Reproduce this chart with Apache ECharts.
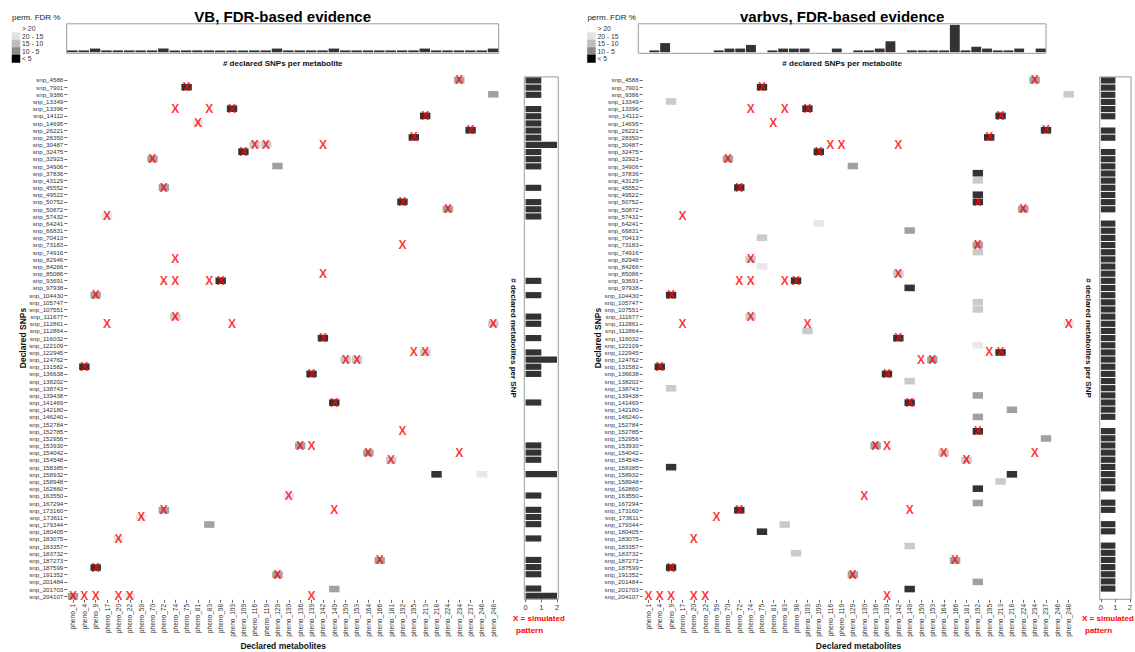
<!DOCTYPE html>
<html>
<head>
<meta charset="utf-8">
<script src="https://cdn.jsdelivr.net/npm/echarts@6/dist/echarts.min.js"></script>
<style>
html,body{margin:0;padding:0;background:#fff;}
#chart{width:1135px;height:652px;}
</style>
</head>
<body>
<div id="chart"></div>
<script>
// ---------------- DATA ----------------
const snps = ['snp_4588','snp_7901','snp_9386','snp_13349','snp_13396','snp_14112','snp_14695','snp_26221','snp_28350','snp_30487',
'snp_32475','snp_32923','snp_34906','snp_37836','snp_43129','snp_45552','snp_49522','snp_50752','snp_50872','snp_57432',
'snp_64241','snp_66831','snp_70413','snp_73183','snp_74916','snp_82946','snp_84266','snp_85086','snp_93691','snp_97938',
'snp_104430','snp_105747','snp_107551','snp_111677','snp_112861','snp_112864','snp_116032','snp_122109','snp_122945','snp_124762',
'snp_131582','snp_136638','snp_138202','snp_138743','snp_139438','snp_141469','snp_142180','snp_146240','snp_152784','snp_152785',
'snp_152956','snp_153930','snp_154042','snp_154548','snp_158385','snp_158932','snp_158948','snp_162860','snp_163550','snp_167294',
'snp_173160','snp_173611','snp_179344','snp_180405','snp_183075','snp_183357','snp_183732','snp_187273','snp_187599','snp_191352',
'snp_201484','snp_201703','snp_204107'];

const phenos = ['pheno_1','pheno_4','pheno_9','pheno_17','pheno_20','pheno_22','pheno_59','pheno_70','pheno_72','pheno_74',
'pheno_75','pheno_81','pheno_83','pheno_98','pheno_103','pheno_109','pheno_116','pheno_119','pheno_129','pheno_130',
'pheno_136','pheno_139','pheno_142','pheno_149','pheno_150','pheno_153','pheno_164','pheno_166','pheno_181','pheno_192',
'pheno_195','pheno_213','pheno_218','pheno_224','pheno_234','pheno_237','pheno_246','pheno_248'];

// perm. FDR % classes: 0 '> 20', 1 '20 - 15', 2 '15 - 10', 3 '10 - 5', 4 '< 5'
const fdrClasses = ['> 20','20 - 15','15 - 10','10 - 5','< 5'];

// VB declared cells: [snp, pheno, FDR class]
const vbCells = [
['snp_4588','pheno_234',3],['snp_7901','pheno_75',4],['snp_9386','pheno_248',3],['snp_13396','pheno_103',4],
['snp_14112','pheno_213',4],['snp_14695','pheno_81',1],['snp_26221','pheno_237',4],['snp_28350','pheno_195',4],
['snp_30487','pheno_116',2],['snp_30487','pheno_119',2],['snp_32475','pheno_109',4],['snp_32923','pheno_70',3],
['snp_34906','pheno_129',3],['snp_45552','pheno_72',3],['snp_50752','pheno_192',4],['snp_50872','pheno_224',3],
['snp_57432','pheno_17',1],['snp_93691','pheno_98',4],['snp_104430','pheno_9',3],['snp_111677','pheno_74',2],
['snp_112861','pheno_248',2],['snp_116032','pheno_142',4],['snp_122945','pheno_213',2],['snp_124762','pheno_150',2],
['snp_124762','pheno_153',2],['snp_131582','pheno_4',4],['snp_136638','pheno_139',4],['snp_141469','pheno_149',4],
['snp_153930','pheno_136',3],['snp_154042','pheno_164',3],['snp_154548','pheno_181',2],['snp_158932','pheno_218',4],
['snp_158932','pheno_246',1],['snp_163550','pheno_130',1],['snp_173160','pheno_72',3],['snp_173611','pheno_59',1],
['snp_179344','pheno_83',3],['snp_183075','pheno_20',1],['snp_187273','pheno_166',3],['snp_187599','pheno_9',4],
['snp_191352','pheno_129',3],['snp_201703','pheno_149',3],['snp_204107','pheno_1',3],['snp_204107','pheno_22',1]
];

// varbvs declared cells: [snp, pheno, FDR class]
const varCells = [
['snp_4588','pheno_234',3],['snp_7901','pheno_75',4],['snp_9386','pheno_248',2],['snp_13349','pheno_9',2],
['snp_13396','pheno_103',4],['snp_14112','pheno_213',4],['snp_26221','pheno_237',4],['snp_28350','pheno_195',4],
['snp_32475','pheno_109',4],['snp_32923','pheno_70',3],['snp_34906','pheno_129',3],['snp_37836','pheno_192',4],
['snp_43129','pheno_192',2],['snp_45552','pheno_72',4],['snp_49522','pheno_192',4],['snp_50752','pheno_192',4],
['snp_50872','pheno_224',3],['snp_64241','pheno_109',1],['snp_66831','pheno_149',3],['snp_70413','pheno_75',2],
['snp_73183','pheno_192',3],['snp_74916','pheno_192',2],['snp_82946','pheno_74',2],['snp_84266','pheno_75',1],
['snp_85086','pheno_142',2],['snp_93691','pheno_98',4],['snp_97938','pheno_149',4],['snp_104430','pheno_9',4],
['snp_105747','pheno_192',2],['snp_107551','pheno_192',2],['snp_111677','pheno_74',2],['snp_112861','pheno_248',1],
['snp_112864','pheno_103',2],['snp_116032','pheno_142',4],['snp_122109','pheno_192',1],['snp_122945','pheno_213',4],
['snp_124762','pheno_153',3],['snp_131582','pheno_4',4],['snp_136638','pheno_139',4],['snp_138202','pheno_149',2],
['snp_138743','pheno_9',2],['snp_139438','pheno_192',3],['snp_141469','pheno_149',4],['snp_142180','pheno_218',3],
['snp_146240','pheno_192',3],['snp_152785','pheno_192',4],['snp_152956','pheno_237',3],['snp_153930','pheno_136',3],
['snp_154042','pheno_164',2],['snp_154548','pheno_181',2],['snp_158385','pheno_9',4],['snp_158932','pheno_218',4],
['snp_158948','pheno_213',2],['snp_162860','pheno_192',4],['snp_167294','pheno_192',3],['snp_173160','pheno_72',4],
['snp_179344','pheno_83',2],['snp_180405','pheno_75',4],['snp_183357','pheno_149',2],['snp_183732','pheno_98',2],
['snp_187273','pheno_166',3],['snp_187599','pheno_9',4],['snp_191352','pheno_129',3],['snp_201484','pheno_192',3],
['snp_201703','pheno_149',4]
];

// simulated pattern (X marks): [snp, pheno]
const simulatedX = [
['snp_4588','pheno_234'],['snp_7901','pheno_75'],['snp_13396','pheno_74'],['snp_13396','pheno_83'],['snp_13396','pheno_103'],
['snp_14112','pheno_213'],['snp_14695','pheno_81'],['snp_26221','pheno_237'],['snp_28350','pheno_195'],
['snp_30487','pheno_116'],['snp_30487','pheno_119'],['snp_30487','pheno_142'],['snp_32475','pheno_109'],
['snp_32923','pheno_70'],['snp_45552','pheno_72'],['snp_50752','pheno_192'],['snp_50872','pheno_224'],
['snp_57432','pheno_17'],['snp_73183','pheno_192'],['snp_82946','pheno_74'],['snp_85086','pheno_142'],
['snp_93691','pheno_72'],['snp_93691','pheno_74'],['snp_93691','pheno_83'],['snp_93691','pheno_98'],
['snp_104430','pheno_9'],['snp_111677','pheno_74'],['snp_112861','pheno_17'],['snp_112861','pheno_103'],
['snp_112861','pheno_248'],['snp_116032','pheno_142'],['snp_122945','pheno_195'],['snp_122945','pheno_213'],
['snp_124762','pheno_150'],['snp_124762','pheno_153'],['snp_131582','pheno_4'],['snp_136638','pheno_139'],
['snp_141469','pheno_149'],['snp_152785','pheno_192'],['snp_153930','pheno_136'],['snp_153930','pheno_139'],
['snp_154042','pheno_164'],['snp_154042','pheno_234'],['snp_154548','pheno_181'],['snp_163550','pheno_130'],
['snp_173160','pheno_72'],['snp_173160','pheno_149'],['snp_173611','pheno_59'],['snp_183075','pheno_20'],
['snp_187273','pheno_166'],['snp_187599','pheno_9'],['snp_191352','pheno_129'],
['snp_204107','pheno_1'],['snp_204107','pheno_4'],['snp_204107','pheno_9'],['snp_204107','pheno_20'],
['snp_204107','pheno_22'],['snp_204107','pheno_139']
];

// # declared SNPs per metabolite (top bars)
const vbPhenoCounts  = [1,1,2,1,1,1,1,1,2,1, 1,1,1,1,1,1,1,1,2,1, 1,1,1,2,1,1,1,1,1,1, 1,2,1,1,1,1,1,2];
const varPhenoCounts = [0,1,5,0,0,0,0,1,2,2, 4,0,1,2,2,2,0,0,2,0, 1,1,2,6,0,1,1,1,1,15, 1,3,2,1,1,2,0,2];

// # declared metabolites per SNP (right bars)
const vbSnpCounts  = [1,1,1,0,1,1,1,1,1,2, 1,1,1,0,0,1,0,1,1,1, 0,0,0,0,0,0,0,0,1,0,
                      1,0,0,1,1,0,1,0,1,2, 1,1,0,0,0,1,0,0,0,0, 0,1,1,1,0,2,0,0,1,0,
                      1,1,1,0,1,0,0,1,1,1, 0,1,2];
const varSnpCounts = [1,1,1,1,1,1,0,1,1,0, 1,1,1,1,1,1,1,1,1,0, 1,1,1,1,1,1,1,1,1,1,
                      1,1,1,1,1,1,1,1,1,1, 1,1,1,1,1,1,1,1,0,1, 1,1,1,1,1,1,1,1,0,1,
                      1,0,1,1,0,1,1,1,1,1, 1,1,0];
const snpCountTicks = [0,1,2];

// ---------------- STYLE ----------------
const FONT = '"Liberation Sans", Arial, Helvetica, sans-serif';
const CLASS_COLORS = ['#ffffff','#e2e2e2','#bdbdbd','#8a8a8a','#000000'];
const BAR_COLOR = '#333333';

const chart = echarts.init(document.getElementById('chart'), null, {renderer:'svg', width:1135, height:652});

const HM_TOP = 76.4, HM_H = 523.4, HM_W = 431.7;
const panels = [
  {title:'VB, FDR-based evidence', cells:vbCells, phenoCounts:vbPhenoCounts, snpCounts:vbSnpCounts,
   hmLeft:67.3, topLeft:66.7, topW:432, rbLeft:524.3, dx:0, noteX:513},
  {title:'varbvs, FDR-based evidence', cells:varCells, phenoCounts:varPhenoCounts, snpCounts:varSnpCounts,
   hmLeft:642.7, topLeft:638.3, topW:407.7, rbLeft:1099.7, dx:575.4, noteX:1082}
];

const grid=[], xAxis=[], yAxis=[], series=[], graphic=[];

panels.forEach((p, pi) => {
  const g0 = grid.length;
  grid.push({left:p.hmLeft, top:HM_TOP, width:HM_W, height:HM_H, containLabel:false});
  grid.push({left:p.topLeft, top:23.8, width:p.topW, height:29.5, show:true, borderColor:'#9a9a9a', borderWidth:1, backgroundColor:'transparent'});
  grid.push({left:p.rbLeft, top:HM_TOP+0.5, width:34, height:HM_H-1, show:true, borderColor:'#9a9a9a', borderWidth:1, backgroundColor:'transparent'});

  // heatmap axes
  xAxis.push({type:'category', gridIndex:g0, data:phenos, boundaryGap:true,
    axisLine:{show:false}, axisTick:{show:true, alignWithLabel:true, length:3, lineStyle:{color:'#444', width:0.8}},
    axisLabel:{rotate:90, fontSize:6.6, color:'#333', margin:4, interval:0, fontFamily:FONT},
    splitLine:{show:false}});
  yAxis.push({type:'category', gridIndex:g0, data:snps, inverse:true, boundaryGap:true,
    axisLine:{show:false}, axisTick:{show:true, alignWithLabel:true, length:3, lineStyle:{color:'#444', width:0.8}},
    axisLabel:{fontSize:6.2, color:'#333', margin:4, interval:0, fontFamily:FONT},
    splitLine:{show:false}});
  // top bars axes
  xAxis.push({type:'category', gridIndex:g0+1, data:phenos, show:false, boundaryGap:true});
  yAxis.push({type:'value', gridIndex:g0+1, min:-0.6, max:15.6, show:false, splitLine:{show:false}});
  // right bars axes
  xAxis.push({type:'value', gridIndex:g0+2, min:-0.08, max:2.08,
    axisLine:{show:false}, splitLine:{show:false},
    axisTick:{show:true, length:3, customValues:snpCountTicks, lineStyle:{color:'#444', width:0.8}},
    axisLabel:{show:true, customValues:snpCountTicks, fontSize:7.5, color:'#333', margin:4, fontFamily:FONT}});
  yAxis.push({type:'category', gridIndex:g0+2, data:snps, inverse:true, show:false, boundaryGap:true});

  const ax0 = g0;
  series.push({type:'scatter', xAxisIndex:ax0, yAxisIndex:ax0, symbol:'rect', symbolSize:[10.4,6.6],
    data:p.cells.map(c => [c[1], c[0], c[2]]), silent:true, animation:false,
    itemStyle:{color:(d) => CLASS_COLORS[d.value[2]]}, z:2});
  series.push({type:'scatter', xAxisIndex:ax0, yAxisIndex:ax0, symbol:'rect', symbolSize:1,
    data:simulatedX.map(s => [s[1], s[0]]), silent:true, animation:false,
    itemStyle:{color:'rgba(0,0,0,0)'},
    label:{show:true, formatter:'X', position:'inside', color:'#ff0000', fontSize:12, fontWeight:'bold', fontFamily:FONT},
    z:3});
  series.push({type:'bar', xAxisIndex:ax0+1, yAxisIndex:ax0+1, data:p.phenoCounts, barCategoryGap:'8%',
    itemStyle:{color:BAR_COLOR}, silent:true, animation:false});
  series.push({type:'bar', xAxisIndex:ax0+2, yAxisIndex:ax0+2, data:p.snpCounts, barCategoryGap:'14%',
    itemStyle:{color:BAR_COLOR}, silent:true, animation:false});

  const dx = p.dx;
  const topCenter = p.topLeft + p.topW/2;
  graphic.push({type:'text', x:topCenter, y:16, style:{text:p.title, font:'bold 15px '+FONT, fill:'#000', textAlign:'center', textVerticalAlign:'middle'}});
  graphic.push({type:'text', x:topCenter, y:63.5, style:{text:'# declared SNPs per metabolite', font:'bold 8px '+FONT, fill:'#111', textAlign:'center', textVerticalAlign:'middle'}});
  graphic.push({type:'text', x:p.hmLeft+HM_W/2, y:646, style:{text:'Declared metabolites', font:'bold 8.5px '+FONT, fill:'#111', textAlign:'center', textVerticalAlign:'middle'}});
  graphic.push({type:'text', x:22.5+dx, y:338, rotation:Math.PI/2, style:{text:'Declared SNPs', font:'bold 8.5px '+FONT, fill:'#111', textAlign:'center', textVerticalAlign:'middle'}});
  graphic.push({type:'text', x:513.5+dx, y:338, rotation:-Math.PI/2, style:{text:'# declared metabolites per SNP', font:'bold 8px '+FONT, fill:'#111', textAlign:'center', textVerticalAlign:'middle'}});
  graphic.push({type:'text', x:p.noteX, y:618, style:{text:'X = simulated', font:'bold 8px '+FONT, fill:'#ff0000', textAlign:'left', textVerticalAlign:'middle'}});
  graphic.push({type:'text', x:p.noteX+3, y:630, style:{text:'pattern', font:'bold 8px '+FONT, fill:'#ff0000', textAlign:'left', textVerticalAlign:'middle'}});
  // legend
  graphic.push({type:'text', x:12+dx, y:17, style:{text:'perm. FDR %', font:'8px '+FONT, fill:'#222', textAlign:'left', textVerticalAlign:'middle'}});
  fdrClasses.forEach((lab, i) => {
    const top = 25 + i*7.5;
    graphic.push({type:'rect', shape:{x:12+dx, y:top, width:8, height:7.5},
      style:{fill:CLASS_COLORS[i], stroke: i===0 ? '#e8e8e8' : CLASS_COLORS[i], lineWidth:0.5}});
    graphic.push({type:'text', x:22+dx, y:top+3.9, style:{text:lab, font:'6.8px '+FONT, fill:'#333', textAlign:'left', textVerticalAlign:'middle'}});
  });
});

chart.setOption({
  backgroundColor:'#ffffff',
  animation:false,
  textStyle:{fontFamily:FONT},
  grid, xAxis, yAxis, series, graphic
});
</script>
</body>
</html>
